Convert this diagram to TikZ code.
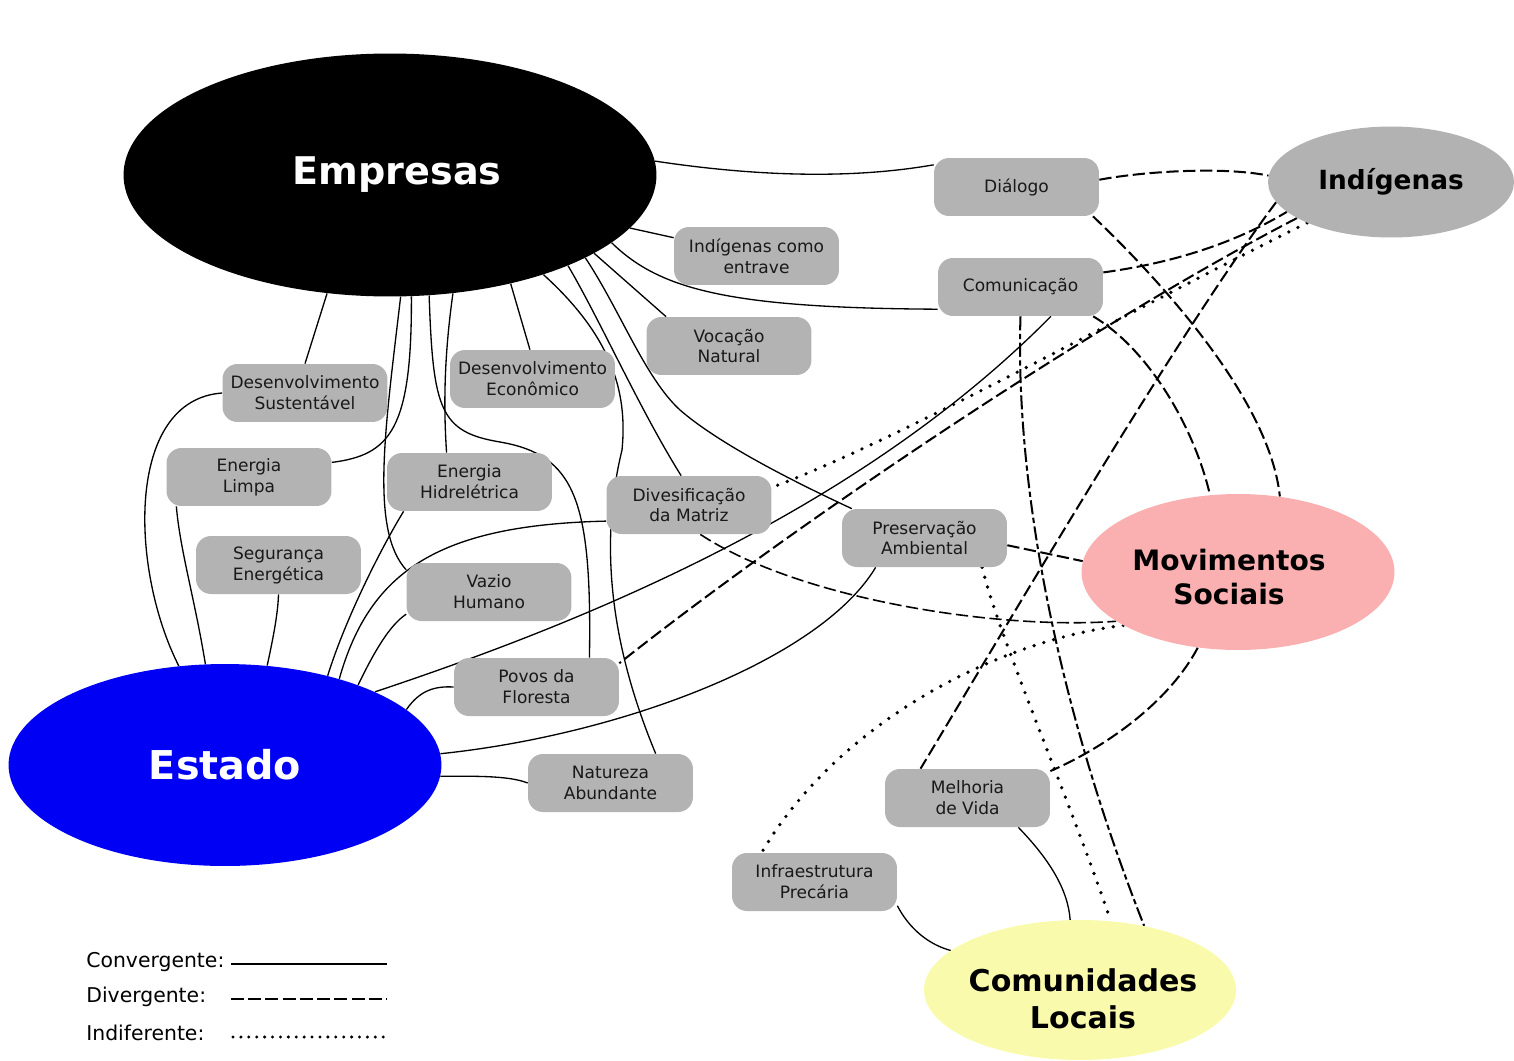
\documentclass[tikz,border=0pt]{standalone}
\usepackage{fontspec}
\setmainfont{DejaVu Sans}
\usetikzlibrary{shapes.geometric}
\pgfdeclarelayer{bg}
\pgfdeclarelayer{paper}
\pgfsetlayers{paper,bg,main}
\definecolor{boxgray}{RGB}{179,179,179}
\definecolor{indgray}{RGB}{178,178,178}
\definecolor{movpink}{RGB}{250,176,176}
\definecolor{clyellow}{RGB}{250,250,172}
\definecolor{estblue}{RGB}{0,0,245}
\definecolor{txtgray}{RGB}{25,25,25}
\begin{document}
\begin{tikzpicture}[x=0.02cm,y=-0.02cm,
  box/.style={draw=none, fill=boxgray, rounded corners=0.3cm, minimum width=3.3cm,
    minimum height=1.16cm, inner sep=0pt, align=center, text=txtgray,
    font=\fontsize{9.7}{11.9}\selectfont},
  actor/.style={ellipse, draw=none, inner sep=0pt, align=center},
  actortext/.style={inner sep=0pt, align=center},
  convline/.style={line width=0.75pt},
  divline/.style={line width=1.15pt, dash pattern=on 7pt off 2.6pt},
  indline/.style={line width=2.1pt, line cap=round, dash pattern=on 0pt off 5.8pt},
  legtext/.style={anchor=base west, inner sep=0pt, font=\fontsize{11.6}{14}\selectfont}]
\useasboundingbox (0,0) rectangle (1514,1061);
\begin{pgfonlayer}{paper}
\fill[white] (0,0) rectangle (1514,1061);
\end{pgfonlayer}

% actors
\node[actor, fill=black, text=white, minimum width=10.66cm, minimum height=4.86cm,
  font=\fontsize{21.7}{26}\selectfont\bfseries] (emp) at (390,175)
  {\hspace*{8pt}Empresas};
\node[actor, fill=indgray, minimum width=4.92cm, minimum height=2.22cm,
  font=\fontsize{15}{18}\selectfont\bfseries] (ind) at (1391,182) {Indígenas};
\node[actor, fill=movpink, minimum width=6.26cm, minimum height=3.12cm] (mov) at (1238,572) {};
\node[actortext, font=\fontsize{16}{19.8}\selectfont\bfseries] (movt) at (1229,577) {Movimentos\\Sociais};
\node[actor, fill=estblue, text=white, minimum width=8.66cm, minimum height=4.04cm,
  font=\fontsize{22.6}{27}\selectfont\bfseries] (est) at (225,765) {Estado};
\node[actor, fill=clyellow, minimum width=6.24cm, minimum height=2.8cm] (cl) at (1080,990) {};
\node[actortext, font=\fontsize{17.1}{21}\selectfont\bfseries] (clt) at (1083,999) {Comunidades\\Locais};

% concept boxes
\node[box] (dlg) at (1016.5,187) {Diálogo};
\node[box] (ent) at (756.5,256) {Indígenas como\\entrave};
\node[box] (com) at (1020.5,287) {Comunicação};
\node[box] (voc) at (729,346) {Vocação\\Natural};
\node[box] (dsu) at (305,393) {Desenvolvimento\\Sustentável};
\node[box] (dec) at (532.5,379) {Desenvolvimento\\Econômico};
\node[box] (elm) at (249,477) {Energia\\Limpa};
\node[box] (dhi) at (469.5,482) {Energia\\Hidrelétrica};
\node[box] (dvm) at (689,505) {Divesificação\\da Matriz};
\node[box] (pre) at (924.5,538) {Preservação\\Ambiental};
\node[box] (seg) at (278.5,565) {Segurança\\Energética};
\node[box] (vaz) at (489,592) {Vazio\\Humano};
\node[box] (pov) at (536.5,687) {Povos da\\Floresta};
\node[box] (nat) at (610.5,783) {Natureza\\Abundante};
\node[box] (mel) at (967.5,798) {Melhoria\\de Vida};
\node[box] (inf) at (814.5,882) {Infraestrutura\\Precária};

\begin{pgfonlayer}{bg}
% convergent (solid) from Empresas
\draw[convline] (emp.3) .. controls (780,180) and (870,176) .. (dlg.165);
\draw[convline] (emp) -- (ent);
\draw[convline] (emp.-17) .. controls (660,290) and (730,308) .. (com.195);
\draw[convline] (emp.-21.4) -- (voc.155);
\draw[convline] (emp.-23) .. controls (620,310) and (645,378) .. (680,410)
  .. controls (718,443) and (790,480) .. (pre.158);
\draw[convline] (emp.-27) .. controls (600,320) and (640,410) .. (dvm.105);
\draw[convline] (emp.-33) .. controls (610,335) and (628,390) .. (622,450)
  .. controls (605,520) and (600,620) .. (nat.33);
\draw[convline] (emp.-42) -- (dec.95);
\draw[convline] (emp.-62) .. controls (445,350) and (443,400) .. (dhi.128);
\draw[convline] (emp.-72) .. controls (433,410) and (440,432) .. (500,442)
  .. controls (575,455) and (592,500) .. (pov.29);
\draw[convline] (emp.-80) .. controls (412,430) and (390,455) .. (elm.10);
\draw[convline] (emp.-85) .. controls (385,430) and (370,530) .. (vaz.165);
\draw[convline] (emp.-118.5) -- (dsu.north);
% convergent (solid) from Estado
\draw[convline] (est.115) .. controls (130,570) and (125,400) .. (dsu.west);
\draw[convline] (est.101) .. controls (195,600) and (180,550) .. (elm.202);
\draw[convline] (est.67) .. controls (275,630) and (278,610) .. (seg.south);
\draw[convline] (est.41) .. controls (345,620) and (380,550) .. (dhi.204);
\draw[convline] (est.37) .. controls (370,570) and (440,525) .. (dvm.191);
\draw[convline] (est.31) .. controls (375,650) and (390,625) .. (vaz.195);
\draw[convline] (est.26) .. controls (560,630) and (850,520) .. (com.-44);
\draw[convline] (est.17) .. controls (420,690) and (435,686) .. (pov.west);
\draw[convline] (est.3.5) .. controls (620,735) and (820,660) .. (pre.211);
\draw[convline] (est.-3.5) .. controls (480,776) and (510,776) .. (nat.west);
% convergent to Comunidades
\draw[convline] (mel.-30) .. controls (1050,860) and (1068,890) .. (cl.98);
\draw[convline] (inf.-16) .. controls (910,930) and (930,945) .. (cl.163);

% divergent (dashed)
\draw[divline] (dlg.5) .. controls (1140,172) and (1220,166) .. (ind.177);
\draw[divline] (com.10) .. controls (1180,262) and (1240,240) .. (ind.196);
\draw[divline] (ind.190) .. controls (1180,330) and (1010,620) .. (mel.148);
\draw[divline] (ind.201) .. controls (1100,320) and (800,520) .. (pov.16);
\draw[divline] (dlg.-21) .. controls (1160,280) and (1270,400) .. (mov.61);
\draw[divline] (com.-22) .. controls (1150,350) and (1195,430) .. (mov.110);
\draw[divline, dash pattern=on 8pt off 2pt on 3pt off 2pt] (com.south) .. controls (1015,480) and (1055,700) .. (cl.45);
\draw[divline] (pre.-5) -- (mov.176);
\draw[divline, line width=0.9pt] (dvm.-69) .. controls (800,600) and (1000,630) .. (mov.202);
\draw[divline] (mov.-118) .. controls (1170,700) and (1110,745) .. (mel.18);

% indifferent (dotted)
\draw[indline] (ind.206) .. controls (1150,300) and (900,440) .. (dvm.12);
\draw[indline] (pre.-27) .. controls (1000,640) and (1070,800) .. (cl.66);
\draw[indline] (mov.205) .. controls (1000,640) and (840,720) .. (inf.151);
\end{pgfonlayer}

% legend
\node[legtext] (lgc) at (86,967) {Convergente:};
\node[legtext] (lgd) at (86,1002) {Divergente:};
\node[legtext] (lgi) at (86,1040) {Indiferente:};
\coordinate (lc1) at (231,964);  \coordinate (lc2) at (387,964);
\coordinate (ld1) at (231,999);  \coordinate (ld2) at (387,999);
\coordinate (li1) at (233,1037); \coordinate (li2) at (387,1037);
\draw[line width=1.6pt] (lc1) -- (lc2);
\draw[line width=1.6pt, dash pattern=on 7.4pt off 2.4pt] (ld1) -- (ld2);
\draw[line width=1.9pt, line cap=round, dash pattern=on 0pt off 4.5pt] (li1) -- (li2);
\end{tikzpicture}
\end{document}
